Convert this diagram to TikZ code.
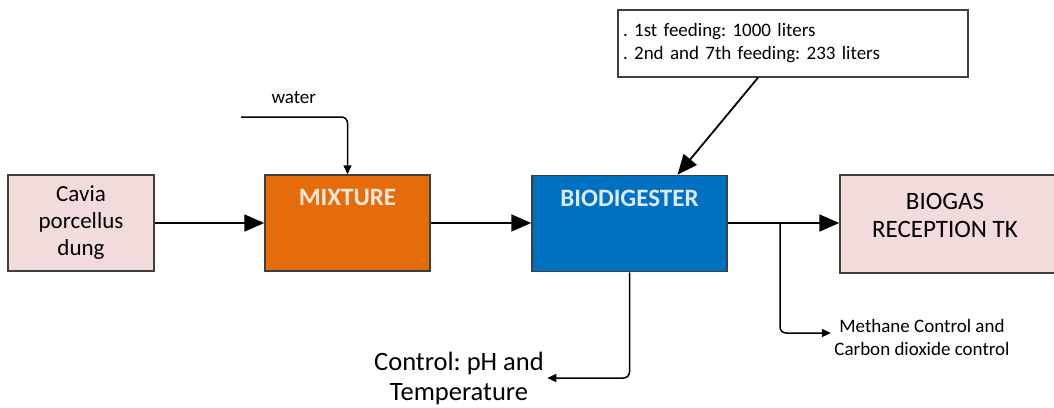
\documentclass[tikz,border=0pt]{standalone}
\usepackage{fontspec}
\setmainfont{Carlito}
\usetikzlibrary{arrows.meta,positioning,calc}
\definecolor{DungPink}{HTML}{F2DCDB}
\definecolor{MixOrange}{HTML}{E46C0A}
\definecolor{DigBlue}{HTML}{0070C0}
\definecolor{DigText}{HTML}{DDEBF7}
\definecolor{MixText}{HTML}{FCE9DA}
\definecolor{BoxEdge}{HTML}{3F3F3F}
\frenchspacing

\begin{document}
\begin{tikzpicture}[
    x=1pt, y=-1pt,
    box/.style={draw=BoxEdge, line width=1.5pt, minimum width=#1, minimum height=96pt, inner sep=0pt},
    flow/.style={line width=1.8pt, -{Triangle[length=20pt,width=17pt]}},
    side/.style={line width=1.5pt, rounded corners=6pt, -{Triangle[length=9pt,width=8pt]}},
    big/.style={font=\fontsize{23}{27}\selectfont},
    small/.style={font=\fontsize{19}{23}\selectfont},
    title/.style={anchor=north, font=\bfseries\fontsize{25}{30}\selectfont}
 ]
\useasboundingbox (0,0) rectangle (1054,407);

% main line of boxes
\node[box=146pt, fill=DungPink, big, align=center] (dung) at (81,223) {Cavia\\porcellus\\dung};
\node[box=165pt, fill=MixOrange] (mix) at (347.5,223) {};
\node[box=195pt, fill=DigBlue] (dig) at (629.5,223.5) {};
\node[box=230pt, fill=DungPink, minimum height=98pt] (tank) at (955,224) {};

\node[title, text=MixText] (mixtxt) at ([yshift=-12pt]mix.north) {MIXTURE};
\node[title, text=DigText] (digtxt) at ([yshift=-12pt]dig.north) {BIODIGESTER};
\node[font=\fontsize{25}{28}\selectfont, align=center] (tanktxt) at (945,215) {BIOGAS\\RECEPTION TK};

% inputs and outputs
\node[draw=BoxEdge, line width=1.4pt, fill=white, small, align=left, minimum width=350pt, minimum height=67pt, text width=340pt] (feed) at (793,43.5) {. 1st feeding: 1000 liters\\. 2nd and 7th feeding: 233 liters};
\node[small, anchor=west] (water) at (268,98) {water};
\coordinate (waterin) at (241,117);
\coordinate (branch) at (780,223);

\node[small, align=center] (gas) at (922,337) {Methane Control and\\Carbon dioxide control};
\node[font=\fontsize{26.5}{30}\selectfont, align=center] (ctrl) at (459,378) {Control: pH and\\Temperature};

\draw[flow] (dung) -- (mix);
\draw[flow] (mix) -- (mix -| dig.west);
\draw[flow] (dig.east |- mix) -- (mix -| tank.west);
\draw[flow] ([xshift=-35pt]feed.south) -- ([xshift=48pt]dig.north);
\draw[side] (waterin) -| (mix.north);
\draw[side] (branch) |- ([yshift=4pt]gas.west);
\draw[side] (dig.south) |- (ctrl.east);

\end{tikzpicture}
\end{document}
